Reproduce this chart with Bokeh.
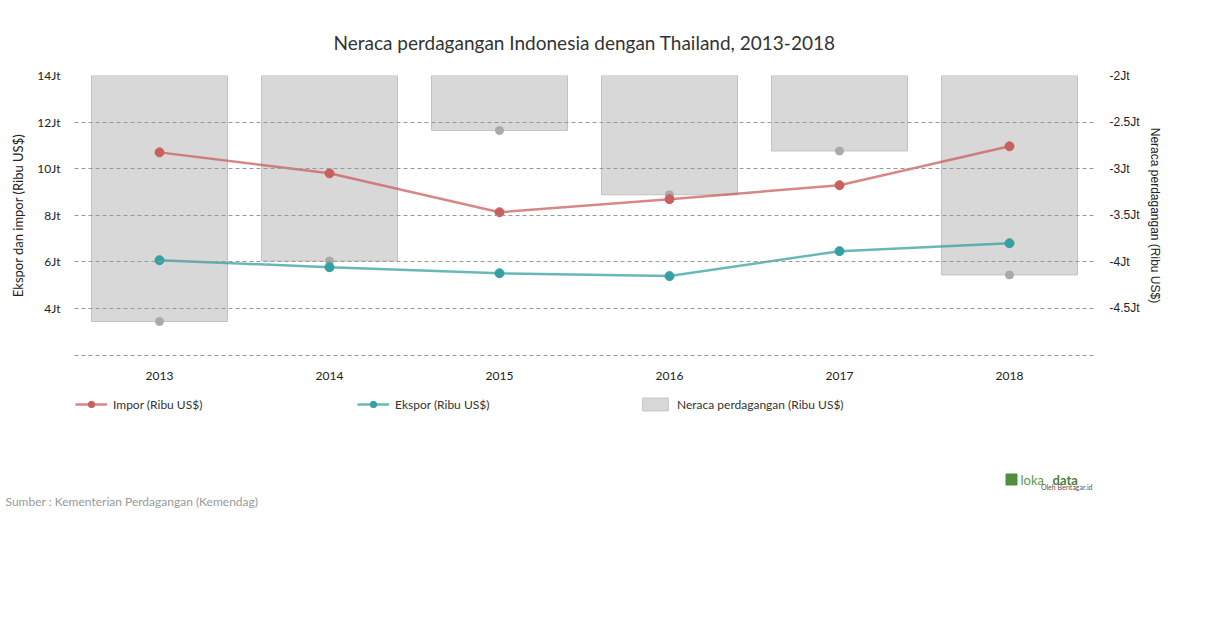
from bokeh.plotting import figure
from bokeh.layouts import column
from bokeh.models import (FactorRange, Range1d, LinearAxis, FixedTicker, CustomJSTickFormatter,
                          Legend, LegendItem, Title)
from bokeh.core.properties import value
from bokeh.embed import file_html
from bokeh.resources import INLINE

years = ["2013", "2014", "2015", "2016", "2017", "2018"]
impor = [10_700_000, 9_800_000, 8_130_000, 8_690_000, 9_290_000, 10_960_000]
ekspor = [6_070_000, 5_770_000, 5_510_000, 5_390_000, 6_460_000, 6_800_000]
neraca = [-4_640_000, -3_990_000, -2_590_000, -3_280_000, -2_810_000, -4_140_000]

left_ticks = [4e6, 6e6, 8e6, 10e6, 12e6, 14e6]
grid_ticks = [2e6, 4e6, 6e6, 8e6, 10e6, 12e6, 14e6]
right_ticks = [-4.5e6, -4e6, -3.5e6, -3e6, -2.5e6, -2e6]

series_labels = ["Impor (Ribu US$)", "Ekspor (Ribu US$)", "Neraca perdagangan (Ribu US$)"]
title_text = "Neraca perdagangan Indonesia dengan Thailand, 2013-2018"
source_text = "Sumber : Kementerian Perdagangan (Kemendag)"

RED = "#c9605e"
TEAL = "#35a0a3"
BAR_FILL = "#d8d8d8"
BAR_LINE = "#c2c2c2"
FONT = "Lato"

p = figure(frame_width=1020, frame_height=280, x_range=FactorRange(*years, range_padding=0),
           y_range=Range1d(1.98e6, 14e6), output_backend="svg", toolbar_location=None,
           min_border_left=74, min_border_right=110, min_border_top=75, min_border_bottom=30)
p.outline_line_color = None
p.background_fill_color = "white"
p.extra_y_ranges = {"neraca": Range1d(-5.005e6, -2e6)}

fmt = CustomJSTickFormatter(code="return (tick/1e6).toString() + 'Jt';")

p.vbar(x=years, top=-2e6, bottom=neraca, width=0.8, y_range_name="neraca",
       fill_color=BAR_FILL, line_color=BAR_LINE, line_width=1)
p.scatter(x=years, y=neraca, y_range_name="neraca", size=8, color="#aaaaaa")

p.line(x=years, y=impor, line_color=RED, line_width=2.5, line_alpha=0.75)
p.scatter(x=years, y=impor, size=9, color=RED)
p.line(x=years, y=ekspor, line_color=TEAL, line_width=2.5, line_alpha=0.75)
p.scatter(x=years, y=ekspor, size=9, color=TEAL)

ya = p.yaxis[0]
ya.ticker = FixedTicker(ticks=left_ticks)
ya.formatter = fmt
ya.axis_label = "Ekspor dan impor (Ribu US$)"
ya.axis_label_text_font = FONT
ya.axis_label_text_font_style = "normal"
ya.axis_label_text_font_size = "13px"
ya.axis_label_text_color = "#222222"
ya.major_label_text_font = FONT
ya.major_label_text_font_size = "12px"
ya.major_label_text_color = "#222222"
ya.axis_line_color = None
ya.major_tick_line_color = None
ya.minor_tick_line_color = None
ya.major_label_standoff = 8
ya.axis_label_standoff = 8

ra = LinearAxis(y_range_name="neraca", ticker=FixedTicker(ticks=right_ticks), formatter=fmt,
                axis_label="Neraca perdagangan (Ribu US$)")
ra.axis_label_text_font = "Liberation Sans"
ra.axis_label_text_font_style = "normal"
ra.axis_label_text_font_size = "12px"
ra.axis_label_text_color = "#222222"
ra.major_label_text_font = "Liberation Sans"
ra.major_label_text_font_size = "12px"
ra.major_label_text_color = "#222222"
ra.axis_line_color = None
ra.major_tick_line_color = None
ra.minor_tick_line_color = None
ra.major_label_standoff = 9
ra.axis_label_standoff = 5
p.add_layout(ra, "right")

xa = p.xaxis[0]
xa.major_label_text_font = FONT
xa.major_label_text_font_size = "12px"
xa.major_label_text_color = "#222222"
xa.axis_line_color = None
xa.major_tick_line_color = None
xa.major_label_standoff = 10

p.xgrid.grid_line_color = None
p.ygrid.ticker = FixedTicker(ticks=grid_ticks)
p.ygrid.grid_line_color = "#999999"
p.ygrid.grid_line_dash = "4 3"
p.ygrid.grid_line_width = 1
p.ygrid.level = "overlay"

p.title.text = title_text
p.title.text_font = FONT
p.title.text_font_size = "19px"
p.title.text_font_style = "normal"
p.title.text_color = "#333333"
p.title.align = "center"
p.title.offset = 6
p.title.standoff = 43

# footer: legend, logo and source note (frame coordinates follow the page in pixels)
foot = figure(frame_width=1020, frame_height=106, x_range=Range1d(74, 1094),
              y_range=Range1d(491, 385), output_backend="svg", toolbar_location=None,
              min_border_left=74, min_border_right=110, min_border_top=0, min_border_bottom=0)
foot.axis.visible = False
foot.grid.visible = False
foot.outline_line_color = None

# legend proxies (kept outside the visible range)
k1 = foot.line(x=[-5, -4], y=[-5, -5], line_color=RED, line_width=2.5, line_alpha=0.75)
k1s = foot.scatter(x=[-5], y=[-5], size=9, color=RED)
k2 = foot.line(x=[-5, -4], y=[-5, -5], line_color=TEAL, line_width=2.5, line_alpha=0.75)
k2s = foot.scatter(x=[-5], y=[-5], size=9, color=TEAL)
k3 = foot.vbar(x=[-5], top=[-5], width=1, fill_color=BAR_FILL, line_color=BAR_LINE)

legend = Legend(items=[LegendItem(label=series_labels[0], renderers=[k1, k1s]),
                       LegendItem(label=series_labels[1], renderers=[k2, k2s]),
                       LegendItem(label=series_labels[2], renderers=[k3])],
                orientation="horizontal", location=(1, 79),
                label_text_font=FONT, label_text_font_size="12px", label_text_color="#333333",
                glyph_width=32, glyph_height=16, label_standoff=6, label_width=244, spacing=0,
                padding=0, margin=0, border_line_color=None, background_fill_alpha=0)
foot.add_layout(legend, "center")

# logo
foot.scatter(x=[1011], y=[479], marker="square", size=11, color="#4f8f3f")
foot.text(x=[1020], y=[479], text=["loka"], text_font=value(FONT), text_font_size="13px",
          text_color="#5a9a4a", text_baseline="middle", text_align="left")
foot.text(x=[1052], y=[479], text=["data"], text_font=value(FONT), text_font_size="13px",
          text_font_style="bold", text_color="#4a7f3a", text_baseline="middle", text_align="left")
foot.text(x=[1092], y=[486], text=["Oleh Beritagar.id"], text_font=value(FONT),
          text_font_size="7px", text_color="#555555", text_baseline="middle", text_align="right")

foot.add_layout(Title(text=source_text, text_font=FONT, text_font_size="12px",
                      text_font_style="normal", text_color="#999999", align="left",
                      offset=-69, standoff=1), "below")

layout = column(p, foot)
open("out.html", "w").write(file_html(layout, INLINE))
